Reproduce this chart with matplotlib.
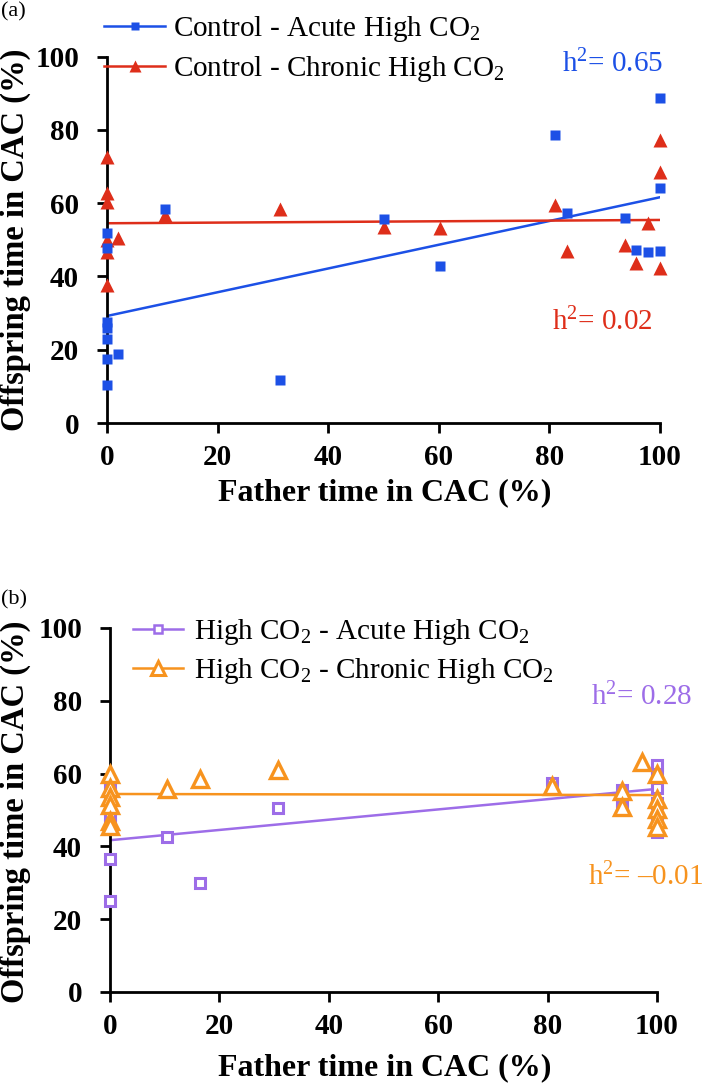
import matplotlib
matplotlib.use('Agg')
import matplotlib.pyplot as plt
from matplotlib.lines import Line2D
import numpy as np

plt.rcParams['font.family'] = ['Liberation Serif', 'DejaVu Serif']
plt.rcParams['mathtext.fontset'] = 'custom'
plt.rcParams['mathtext.rm'] = 'Liberation Serif'
plt.rcParams['mathtext.it'] = 'Liberation Serif:italic'
plt.rcParams['mathtext.bf'] = 'Liberation Serif:bold'

# ---- data ----
# panel (a)
ctrl_acute_x = [0, 0, 0, 0, 0, 0, 0, 2.0, 10.4, 31.2, 50.0, 60.3, 81.1, 83.2, 93.6, 95.7, 97.8, 100, 100, 100]
ctrl_acute_y = [51.9, 47.7, 27.6, 25.8, 22.8, 17.4, 10.4, 18.8, 58.3, 11.6, 55.6, 42.9, 78.5, 57.2, 56.0, 47.2, 46.7, 46.9, 64.2, 88.6]
ctrl_chronic_x = [0, 0, 0, 0, 0, 0, 2.0, 10.4, 31.2, 50.0, 60.3, 81.1, 83.2, 93.6, 95.7, 97.8, 100, 100, 100]
ctrl_chronic_y = [72.7, 62.7, 60.4, 49.9, 46.7, 37.7, 50.4, 56.7, 58.3, 53.6, 53.1, 59.5, 46.9, 48.6, 43.6, 54.5, 42.2, 68.6, 77.2]

# panel (b)
high_acute_x = [0, 0, 0, 0, 0, 0, 10.4, 16.5, 30.8, 80.8, 93.6, 93.6, 100, 100, 100, 100, 100, 100]
high_acute_y = [57.5, 53.0, 49.0, 45.5, 36.5, 25.0, 42.7, 29.9, 50.5, 57.5, 55.5, 51.0, 62.5, 60.0, 56.0, 52.0, 48.0, 44.0]
high_chronic_x = [0, 0, 0, 0, 0, 0, 10.4, 16.5, 30.8, 80.8, 93.6, 93.6, 97.3, 100, 100, 100, 100, 100]
high_chronic_y = [60.0, 56.0, 53.5, 51.5, 47.0, 45.5, 55.8, 58.4, 61.0, 56.5, 55.3, 50.9, 63.3, 59.8, 53.0, 50.2, 47.5, 45.2]

# regression lines: y at x = 0 and x = 100
fit_x = [0, 100]
ctrl_acute_fit = [29.2, 61.6]
ctrl_chronic_fit = [54.5, 55.4]
high_acute_fit = [41.7, 55.8]
high_chronic_fit = [54.4, 54.1]

ticks = [0, 20, 40, 60, 80, 100]

colors = {
    'blue': '#1c50e6',
    'red': '#de2e1a',
    'purple': '#9d6de8',
    'orange': '#f7931e',
}

W, H = 709, 1090
fig = plt.figure(figsize=(W / 100, H / 100), dpi=100)


def px_axes(left, right, top, bottom):
    """axes from pixel edges"""
    return fig.add_axes([left / W, 1 - bottom / H, (right - left) / W, (bottom - top) / H])


def style_axes(ax):
    ax.set_xlim(0, 100)
    ax.set_ylim(0, 100)
    ax.set_xticks(ticks)
    ax.set_yticks(ticks)
    for s in ['top', 'right']:
        ax.spines[s].set_visible(False)
    for s in ['left', 'bottom']:
        ax.spines[s].set_linewidth(2.0)
    ax.tick_params(direction='out', length=7, width=2.0, labelsize=21)
    ax.tick_params(axis='y', pad=13)
    ax.tick_params(axis='x', pad=8)
    for lab in ax.get_xticklabels() + ax.get_yticklabels():
        lab.set_fontweight('bold')
    ax.patch.set_alpha(0)


# ---------------- panel (a) ----------------
ax1 = px_axes(107, 660, 56.5, 423)
style_axes(ax1)
ax1.plot(fit_x, ctrl_acute_fit, color=colors['blue'], lw=1.8, zorder=2)
ax1.plot(fit_x, ctrl_chronic_fit, color=colors['red'], lw=1.8, zorder=2)
ax1.plot(ctrl_chronic_x, ctrl_chronic_y, ls='none', marker='^', ms=10,
         color=colors['red'], mec='none', clip_on=False, zorder=3)
ax1.plot(ctrl_acute_x, ctrl_acute_y, ls='none', marker='s', ms=7.3,
         color=colors['blue'], mec='none', clip_on=False, zorder=4)

h_a = [Line2D([], [], color=colors['blue'], lw=1.8, marker='s', ms=5.5, mec='none'),
       Line2D([], [], color=colors['red'], lw=1.8, marker='^', ms=9, mec='none')]
fig.legend(h_a, ['Control - Acute High CO$_2$', 'Control - Chronic High CO$_2$'],
           loc='upper left', bbox_to_anchor=(104 / W, 1 - 14 / H), frameon=False,
           fontsize=21, handlelength=2.1, handletextpad=0.25, labelspacing=0.35,
           borderpad=0, borderaxespad=0)

ax1.text(100.5, 98, 'h$^2$= 0.65', color=colors['blue'], fontsize=21,
         ha='right', va='center')
ax1.text(98.6, 27.5, 'h$^2$= 0.02', color=colors['red'], fontsize=21,
         ha='right', va='center')

fig.text(1 / W, 1 - 12 / H, '(a)', fontsize=16, ha='left', va='center')
fig.text(15 / W, 1 - 240 / H, 'Offspring time in CAC (%)', rotation=90,
         fontsize=23.5, fontweight='bold', ha='center', va='center')
fig.text(385 / W, 1 - 493 / H, 'Father time in CAC (%)',
         fontsize=23, fontweight='bold', ha='center', va='center')

# ---------------- panel (b) ----------------
ax2 = px_axes(110, 657, 628, 992)
style_axes(ax2)
ax2.plot(fit_x, high_acute_fit, color=colors['purple'], lw=1.8, zorder=2)
ax2.plot(fit_x, high_chronic_fit, color=colors['orange'], lw=1.8, zorder=2)
ax2.plot(high_acute_x, high_acute_y, ls='none', marker='s', ms=7.5,
         mfc='white', mec=colors['purple'], mew=2.2, clip_on=False, zorder=3)
ax2.plot(high_chronic_x, high_chronic_y, ls='none', marker='^', ms=11,
         mfc='white', mec=colors['orange'], mew=2.4, clip_on=False, zorder=4)

h_b = [Line2D([], [], color=colors['purple'], lw=1.8, marker='s', ms=6,
              mfc='white', mec=colors['purple'], mew=1.8),
       Line2D([], [], color=colors['orange'], lw=1.8, marker='^', ms=9.5,
              mfc='white', mec=colors['orange'], mew=2.2)]
fig.legend(h_b, ['High CO$_2$ - Acute High CO$_2$', 'High CO$_2$ - Chronic High CO$_2$'],
           loc='upper left', bbox_to_anchor=(133 / W, 1 - 617 / H), frameon=False,
           fontsize=21, handlelength=1.7, handletextpad=0.4, labelspacing=0.3,
           borderpad=0, borderaxespad=0)

ax2.text(106.5, 81, 'h$^2$= 0.28', color=colors['purple'], fontsize=21,
         ha='right', va='center')
ax2.text(108.5, 31.6, 'h$^2$= \u20130.01', color=colors['orange'], fontsize=21,
         ha='right', va='center')

fig.text(1 / W, 1 - 600 / H, '(b)', fontsize=16, ha='left', va='center')
fig.text(15 / W, 1 - 812 / H, 'Offspring time in CAC (%)', rotation=90,
         fontsize=23.5, fontweight='bold', ha='center', va='center')
fig.text(385 / W, 1 - 1068 / H, 'Father time in CAC (%)',
         fontsize=23, fontweight='bold', ha='center', va='center')

fig.savefig('out.png', dpi=100)
